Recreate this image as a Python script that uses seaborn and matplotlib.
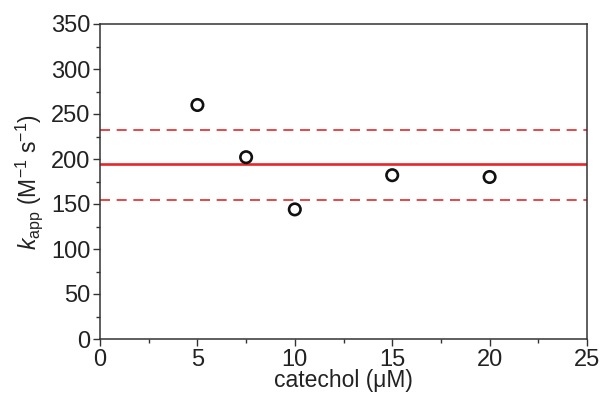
import matplotlib
matplotlib.use("Agg")
import matplotlib.pyplot as plt
import seaborn as sns
import pandas as pd
from matplotlib.ticker import MultipleLocator

# Apparent rate constants at each catechol concentration
catechol_uM = [5, 7.5, 10, 15, 20]
k_app = [260, 202, 144, 182, 180]

# Mean and confidence band
k_mean = 194
k_upper = 232
k_lower = 155

x_ticks = [0, 5, 10, 15, 20, 25]
y_ticks = [0, 50, 100, 150, 200, 250, 300, 350]

sns.set_theme(style="ticks")
plt.rcParams["font.family"] = ["Liberation Sans", "DejaVu Sans"]
plt.rcParams["mathtext.fontset"] = "custom"
plt.rcParams["mathtext.rm"] = "Liberation Sans"
plt.rcParams["mathtext.it"] = "Liberation Sans:italic"
plt.rcParams["mathtext.default"] = "regular"

df = pd.DataFrame({"catechol": catechol_uM, "kapp": k_app})

fig = plt.figure(figsize=(6.01, 4.01), dpi=100)
ax = fig.add_axes([100 / 601, 1 - 339 / 401, 487 / 601, 315 / 401])

red = "#e8262a"
ax.axhline(k_mean, color=red, lw=1.9, zorder=2)
ax.axhline(k_upper, color=red, lw=1.2, ls=(0, (6, 4)), zorder=2)
ax.axhline(k_lower, color=red, lw=1.2, ls=(0, (6, 4)), zorder=2)

sns.scatterplot(data=df, x="catechol", y="kapp", ax=ax, s=68, marker="o",
                facecolor="none", edgecolor="#111111", linewidth=1.9, zorder=3)

ax.set_xlim(0, 25)
ax.set_ylim(0, 350)
ax.set_xticks(x_ticks)
ax.set_yticks(y_ticks)
ax.xaxis.set_minor_locator(MultipleLocator(2.5))
ax.yaxis.set_minor_locator(MultipleLocator(25))

for s in ax.spines.values():
    s.set_color("#333333")
    s.set_linewidth(1.1)
ax.tick_params(which="major", direction="out", length=5, width=1.0,
               color="#333333", labelsize=17, labelcolor="#222222", pad=2)
ax.tick_params(which="minor", direction="out", length=3, width=1.0,
               color="#333333")

ax.set_xlabel("catechol (μM)", fontsize=16.5, color="#222222", labelpad=-1)
ax.set_ylabel("$\\mathit{k}_{\\mathrm{app}}$ (M$^{-1}$ s$^{-1}$)", fontsize=16.5,
              color="#222222", labelpad=4)

fig.savefig("out.png", dpi=100)
